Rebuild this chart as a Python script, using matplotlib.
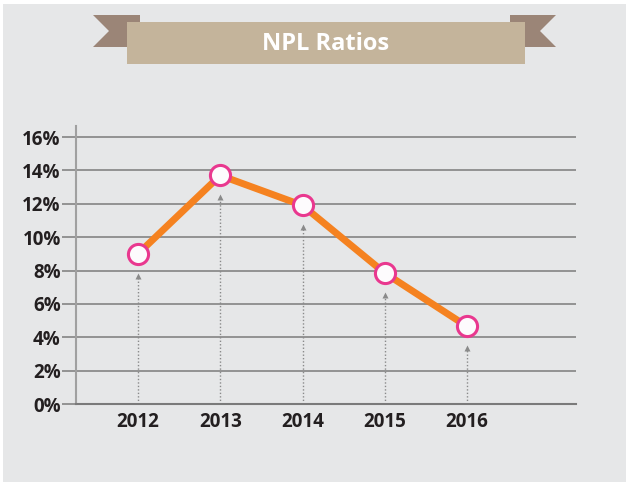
import matplotlib
matplotlib.use("Agg")
import matplotlib.pyplot as plt
from matplotlib.patches import Rectangle, Polygon

# data
years = ["2012", "2013", "2014", "2015", "2016"]
npl = [9.0, 13.7, 11.9, 7.85, 4.65]
yticks = [0, 2, 4, 6, 8, 10, 12, 14, 16]

W, H = 628, 483
fig = plt.figure(figsize=(W / 100, H / 100), dpi=100)
fig.patch.set_facecolor("white")

def px(x, y):
    return x / W, 1 - y / H

# grey panel
fig.patches.append(Rectangle(px(3, 482), 623 / W, 478 / H, transform=fig.transFigure,
                             facecolor="#e6e7e8", edgecolor="none", zorder=-10))

# ribbon ends
rib = "#9b8577"
left_end = [px(93, 15), px(140, 15), px(140, 47), px(93, 47), px(109, 31)]
right_end = [px(510, 15), px(556, 15), px(540, 31), px(556, 47), px(510, 47)]
for pts in (left_end, right_end):
    fig.patches.append(Polygon(pts, closed=True, transform=fig.transFigure,
                               facecolor=rib, edgecolor="none", zorder=1))
# banner
fig.patches.append(Rectangle(px(127, 64), 398 / W, 42 / H, transform=fig.transFigure,
                             facecolor="#c4b49b", edgecolor="none", zorder=2))
fig.text(326 / W, 1 - 44 / H, "NPL Ratios", color="white", fontsize=17, fontweight="bold",
         family="Open Sans", ha="center", va="center", zorder=3)

ax = fig.add_axes([76 / W, 79 / H, 500 / W, 278 / H])
ax.set_facecolor("none")
x = list(range(len(years)))
ax.set_xlim(-0.754, 5.325)
ax.set_ylim(0, 16.66)

grid_c = "#8c8c8c"
for t in yticks[1:]:
    ax.axhline(t, color=grid_c, lw=1.3, zorder=1)
for s in ["top", "right"]:
    ax.spines[s].set_visible(False)
ax.spines["left"].set_color("#a0a0a0")
ax.spines["left"].set_linewidth(1.5)
ax.spines["bottom"].set_color("#7a7a7a")
ax.spines["bottom"].set_linewidth(1.5)

ax.set_yticks(yticks)
ax.set_yticklabels([f"{t}%" for t in yticks])
ax.tick_params(axis="y", length=10, width=1.3, color=grid_c, pad=1)
ax.set_xticks(x)
ax.set_xticklabels(years)
ax.tick_params(axis="x", length=0, pad=6)
for lab in ax.get_xticklabels() + ax.get_yticklabels():
    lab.set_family("Open Sans")
    lab.set_fontweight("bold")
    lab.set_fontsize(13.5)
    lab.set_color("#231f20")

# dotted pointers
gap = 1.15
for xi, v in zip(x, npl):
    ax.vlines(xi, 0, v - gap - 0.2, colors="#8a8a8a", linestyles=(0, (1, 1.5)), lw=1, zorder=2)
    ax.plot(xi, v - gap - 0.15, marker="^", ms=5, color="#8a8a8a", mec="none", zorder=2)

ax.plot(x, npl, color="#f58220", lw=5, zorder=3, solid_capstyle="butt")
ax.plot(x, npl, ls="none", marker="o", ms=14.5, mfc="#fdfbfd", mec="#e9388f", mew=2.2, zorder=4)

fig.savefig("out.png", dpi=100)
